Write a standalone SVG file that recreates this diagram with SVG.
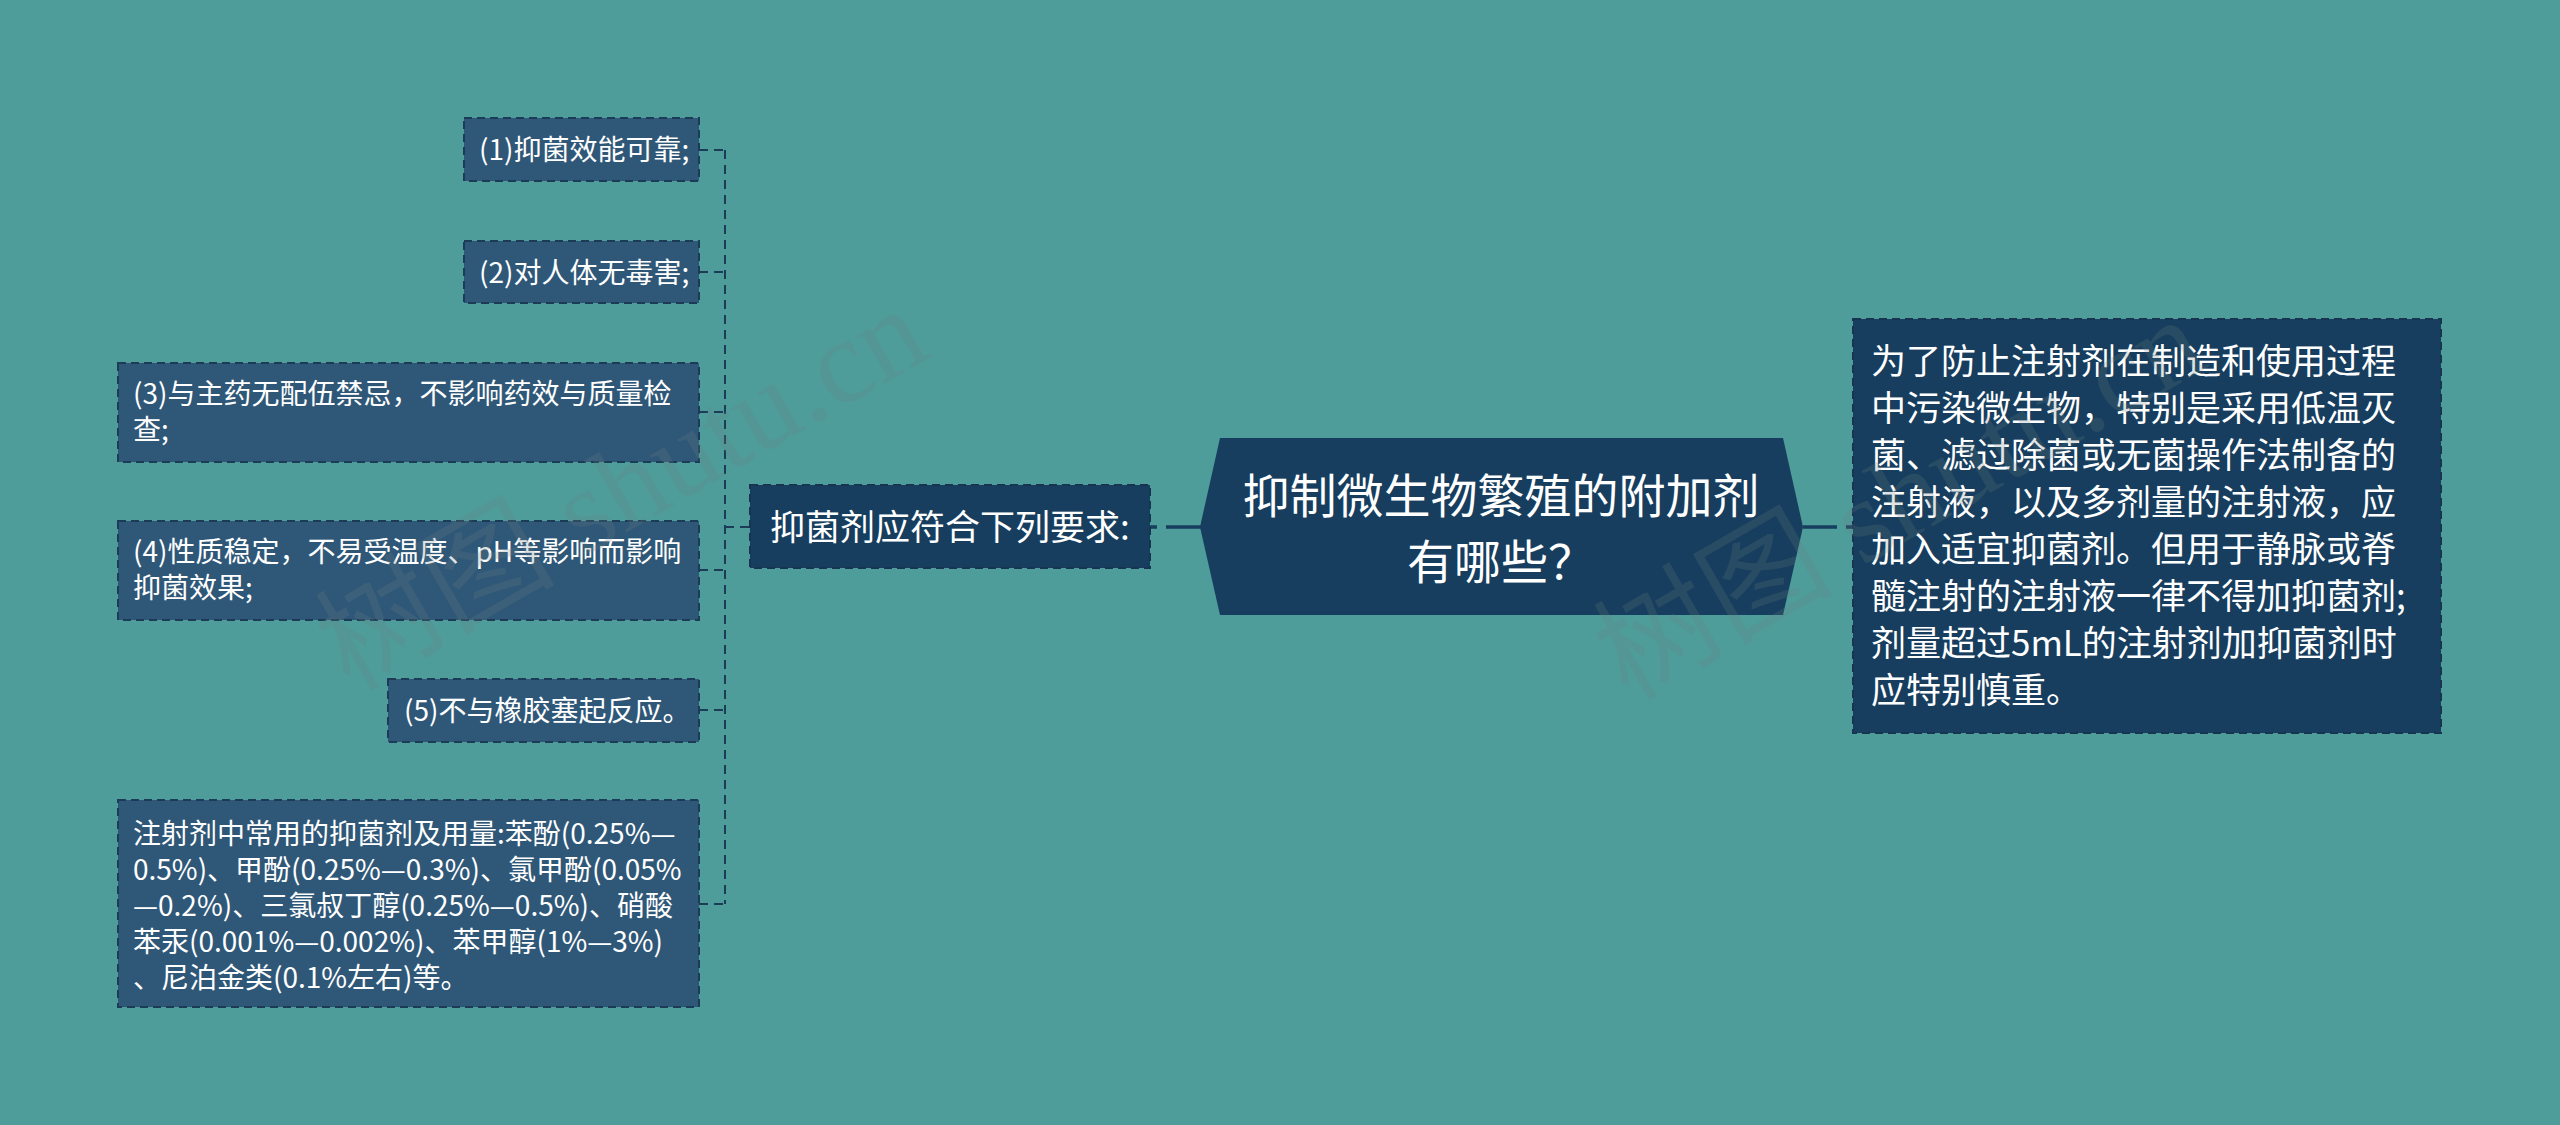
<svg xmlns="http://www.w3.org/2000/svg" width="2560" height="1125" viewBox="0 0 2560 1125">
<style>
.bg{fill:#4e9d9b}
.child{fill:#2f5878;stroke:#1c3b56;stroke-width:2;stroke-dasharray:8 5}
.main{fill:#173e5e;stroke:#173451;stroke-width:2;stroke-dasharray:8 5}
.t{font-family:"Noto Sans CJK SC","Noto Sans",sans-serif;fill:#ffffff}
.ct{font-size:28px}
.mt{font-size:35px}
.tt{font-size:47px}
.dash{fill:none;stroke:#1c3b56;stroke-width:2;stroke-dasharray:9 6}
.solid{fill:none;stroke:#173e5e;stroke-width:3.5}
.wm{font-family:"Liberation Serif","DejaVu Serif","Noto Sans CJK SC",serif;font-size:120px;fill:#6f7f80;fill-opacity:0.22}
</style>
<rect class="bg" x="0" y="0" width="2560" height="1125"/>
<g id="connectors">
<path class="dash" d="M725 150 V904"/>
<path class="dash" d="M699 150 H725 M699 272 H725 M699 412 H725 M699 570 H725 M699 710 H725 M699 904 H725 M725 527 H750"/>
<path class="solid" d="M1150 527 H1157 M1166 527 H1201"/>
<path class="solid" d="M1803 527 H1837 M1846 527 H1853"/>
</g>
<g id="center">
<polygon points="1220,438 1783,438 1803,527 1783,615 1220,615 1200,527" fill="#173e5e"/>
<text class="t tt" x="1501" y="513" text-anchor="middle">抑制微生物繁殖的附加剂</text>
<text class="t tt" x="1501" y="579" text-anchor="middle">有哪些？</text>
</g>
<g id="left-main">
<rect class="main" x="750" y="485" width="400" height="83"/>
<text class="t mt" x="770" y="540">抑菌剂应符合下列要求:</text>
</g>
<g id="right-main">
<rect class="main" x="1853" y="319" width="588" height="414"/>
<text class="t mt">
<tspan x="1871" y="374">为了防止注射剂在制造和使用过程</tspan>
<tspan x="1871" y="421">中污染微生物，特别是采用低温灭</tspan>
<tspan x="1871" y="468">菌、滤过除菌或无菌操作法制备的</tspan>
<tspan x="1871" y="515">注射液，以及多剂量的注射液，应</tspan>
<tspan x="1871" y="562">加入适宜抑菌剂。但用于静脉或脊</tspan>
<tspan x="1871" y="609">髓注射的注射液一律不得加抑菌剂;</tspan>
<tspan x="1871" y="656">剂量超过5mL的注射剂加抑菌剂时</tspan>
<tspan x="1871" y="703">应特别慎重。</tspan>
</text>
</g>
<g id="c1">
<rect class="child" x="464" y="118" width="235" height="63"/>
<text class="t ct" x="479" y="160">(1)抑菌效能可靠;</text>
</g>
<g id="c2">
<rect class="child" x="464" y="241" width="235" height="62"/>
<text class="t ct" x="479" y="283">(2)对人体无毒害;</text>
</g>
<g id="c3">
<rect class="child" x="118" y="363" width="581" height="99"/>
<text class="t ct"><tspan x="133" y="404">(3)与主药无配伍禁忌，不影响药效与质量检</tspan><tspan x="133" y="440">查;</tspan></text>
</g>
<g id="c4">
<rect class="child" x="118" y="521" width="581" height="99"/>
<text class="t ct"><tspan x="133" y="562">(4)性质稳定，不易受温度、pH等影响而影响</tspan><tspan x="133" y="598">抑菌效果;</tspan></text>
</g>
<g id="c5">
<rect class="child" x="388" y="679" width="311" height="63"/>
<text class="t ct" x="404" y="721">(5)不与橡胶塞起反应。</text>
</g>
<g id="c6">
<rect class="child" x="118" y="800" width="581" height="207"/>
<text class="t ct">
<tspan x="133" y="844">注射剂中常用的抑菌剂及用量:苯酚(0.25%—</tspan>
<tspan x="133" y="880">0.5%)、甲酚(0.25%—0.3%)、氯甲酚(0.05%</tspan>
<tspan x="133" y="916">—0.2%)、三氯叔丁醇(0.25%—0.5%)、硝酸</tspan>
<tspan x="133" y="952">苯汞(0.001%—0.002%)、苯甲醇(1%—3%)</tspan>
<tspan x="133" y="988">、尼泊金类(0.1%左右)等。</tspan>
</text>
</g>
<g id="watermarks">
<text class="wm" transform="translate(350,692) rotate(-30)">树图 shutu.cn</text>
<text class="wm" transform="translate(1628,702) rotate(-30)">树图 shutu.cn</text>
</g>
</svg>
